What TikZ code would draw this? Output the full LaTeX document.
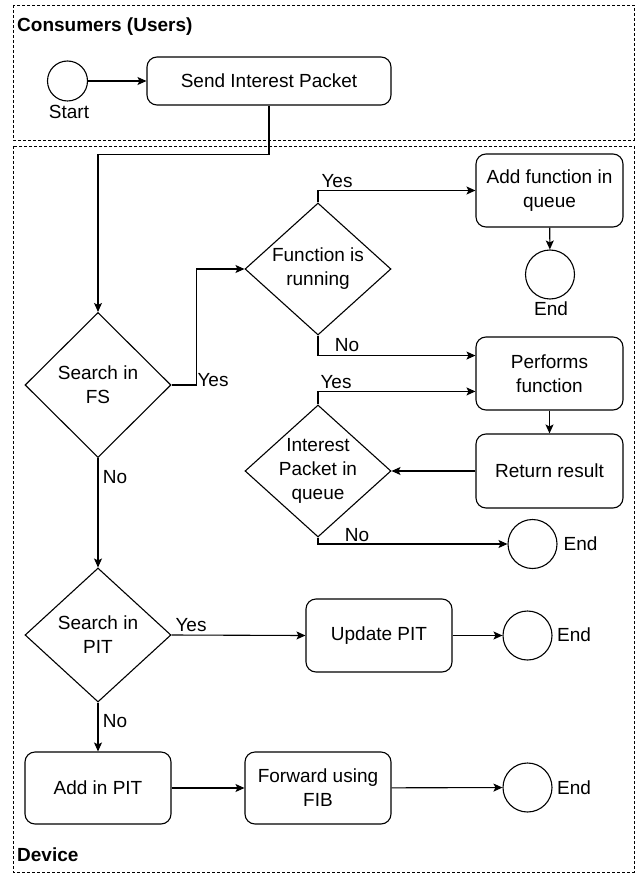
\documentclass[tikz,border=0pt]{standalone}
\usepackage{fontspec}
\setmainfont{Liberation Sans}
\usetikzlibrary{shapes.geometric,arrows.meta,calc}
\begin{document}
\begin{tikzpicture}[x=1pt,y=-1pt,
  every node/.style={font=\fontsize{19}{24}\selectfont},
  lane/.style={draw, line width=0.8pt, dash pattern=on 3pt off 2pt},
  lanetitle/.style={anchor=west, font=\fontsize{19}{24}\selectfont\bfseries, inner sep=0pt},
  proc/.style={draw, line width=1.1pt, rounded corners=10pt, minimum width=#1, minimum height=73pt, align=center, inner sep=2pt},
  proc/.default=147pt,
  dia/.style={draw, line width=1.1pt, diamond, inner sep=0pt, minimum width=146pt, minimum height=#1},
  dia/.default=132pt,
  term/.style={draw, line width=1.1pt, circle, minimum size=49pt, inner sep=0pt},
  lbl/.style={inner sep=0pt},
  arr/.style={line width=1.1pt, -{Stealth[length=9pt,width=8pt,inset=2pt]}},
  ln/.style={line width=1.1pt}]
\useasboundingbox (0,0) rectangle (636,874);
% lanes
\draw[lane] (13,5) rectangle (634,140);
\draw[lane] (13,146) rectangle (634,872);
\node[lanetitle] (t1) at (17,27) {Consumers (Users)};
\node[lanetitle] (t2) at (17,855) {Device};
% consumers
\node[draw, line width=1.1pt, circle, minimum size=40pt, inner sep=0pt] (start) at (67.5,81) {};
\node[lbl] (startl) at (69,112) {Start};
\node[proc=244pt, minimum height=48pt] (send) at (269,81) {Send Interest Packet};
% device
\node[dia=145pt] (fs) at (98,385) {};
\node[align=center] (fst) at (fs) {Search in\\FS};
\node[dia] (fr) at (318,269) {};
\node[align=center] (frt) at (fr) {Function is\\running};
\node[proc] (addq) at (549.5,190.5) {Add function in\\queue};
\node[term] (endA) at (550,274.5) {};
\node[lbl] (endAl) at (551,309) {End};
\node[proc] (perf) at (549.5,373.5) {Performs\\function};
\node[proc, minimum height=74pt] (ret) at (549.5,471) {Return result};
\node[dia] (d3) at (318,471) {};
\node[align=center] (d3t) at (d3) {Interest\\Packet in\\queue};
\node[term] (endB) at (532.5,544) {};
\node[lbl] (endBl) at (580.5,544) {End};
\node[dia=134pt] (pit) at (98,635) {};
\node[align=center] (pitt) at (pit) {Search in\\PIT};
\node[proc=146pt] (upd) at (379,635.5) {Update PIT};
\node[term] (endC) at (527.5,635.5) {};
\node[lbl] (endCl) at (574,635) {End};
\node[proc=146pt, minimum height=72pt] (addp) at (98,788) {Add in PIT};
\node[proc=146pt, minimum height=72pt] (fwd) at (318,788) {Forward using\\FIB};
\node[term] (endD) at (527.5,787.5) {};
\node[lbl] (endDl) at (574,788) {End};
% connectors
\draw[arr] (start) -- (send);
\draw[arr] (send.south) -- ++(0,49) -| (fs.north);
\draw[arr] (fs.east) -- ++(25,0) |- (fr.west);
\node[lbl] (y1) at (213,380) {Yes};
\draw[arr] (fr.north) |- (addq.west);
\node[lbl] (y2) at (337,181) {Yes};
\draw[arr] (addq) -- (endA);
\draw[arr] (fr.south) -- ++(0,20) coordinate (c1) -- (c1 -| perf.west);
\node[lbl] (n2) at (347,345) {No};
\draw[arr] (perf) -- (ret);
\draw[arr] (ret) -- (d3.east);
\draw[arr] (d3.north) -- ++(0,-13) coordinate (c2) -- (c2 -| perf.west);
\node[lbl] (y3) at (336,382) {Yes};
\draw[arr] (d3.south) |- (endB.west);
\node[lbl] (n3) at (357,535) {No};
\draw[arr] (fs.south) -- (pit.north);
\node[lbl] (n1) at (115,477) {No};
\draw[arr] (pit.east) -- (upd.west);
\node[lbl] (y4) at (191,625) {Yes};
\draw[arr] (upd) -- (endC);
\draw[arr] (pit.south) -- (addp.north);
\node[lbl] (n4) at (115,721) {No};
\draw[arr] (addp) -- (fwd);
\draw[arr] (fwd) -- (endD);
\end{tikzpicture}
\end{document}
